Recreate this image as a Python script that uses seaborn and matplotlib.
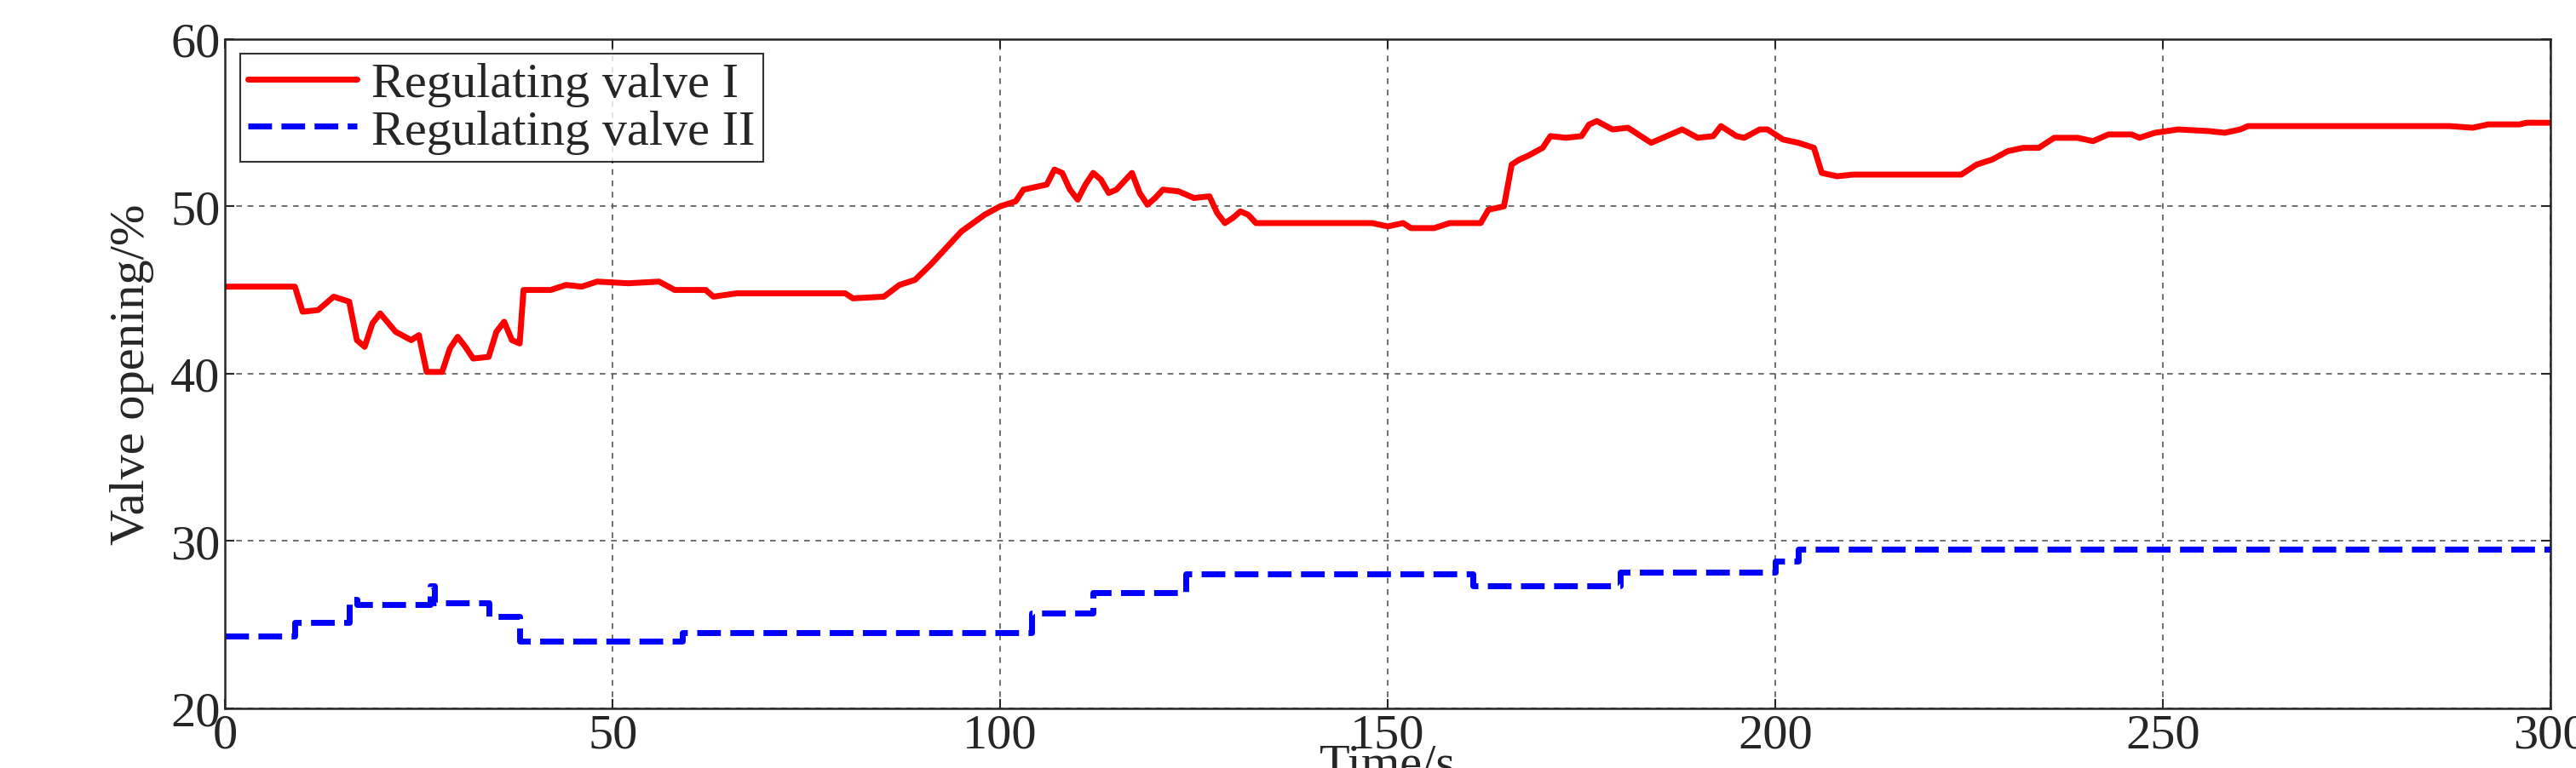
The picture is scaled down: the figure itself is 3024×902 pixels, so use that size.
import numpy as np
import pandas as pd
import matplotlib.pyplot as plt
import seaborn as sns

# valve I (red) readings
t1 = [0, 9, 10, 12, 14, 16, 17, 18, 19, 20, 22, 24, 25, 26, 28, 29, 30, 31, 32, 34, 35, 36, 37, 38, 38.5,
      42, 44, 46, 48, 52, 56, 58, 62, 63, 66, 80, 81, 85, 87, 89, 91, 93, 95, 98, 100, 102, 103, 106, 107,
      108, 109, 110, 111, 112, 113, 114, 115, 116, 117, 118, 119, 120, 121, 123, 125, 127, 128, 129, 130,
      131, 132, 133, 148, 150, 152, 153, 156, 158, 162, 163, 165, 166, 167, 168, 170, 171, 173, 175, 176,
      177, 179, 181, 183, 184, 186, 188, 190, 192, 193, 195, 196, 198, 199, 201, 203, 205, 206, 208, 210,
      224, 226, 228, 230, 232, 234, 236, 239, 241, 243, 246, 247, 249, 252, 256, 258, 260, 261, 280, 287,
      290, 292, 296, 297, 300]
v1 = [45.2, 45.2, 43.7, 43.8, 44.6, 44.3, 42, 41.6, 43, 43.6, 42.5, 42, 42.3, 40.1, 40.1, 41.5, 42.2, 41.6,
      40.9, 41, 42.5, 43.1, 42, 41.8, 45, 45, 45.3, 45.2, 45.5, 45.4, 45.5, 45, 45, 44.6, 44.8, 44.8, 44.5,
      44.6, 45.3, 45.6, 46.5, 47.5, 48.5, 49.5, 50, 50.3, 51, 51.3, 52.2, 52, 51, 50.4, 51.3, 52, 51.6, 50.8,
      51, 51.5, 52, 50.8, 50.1, 50.5, 51, 50.9, 50.5, 50.6, 49.6, 49, 49.3, 49.7, 49.5, 49, 49, 48.8, 49,
      48.7, 48.7, 49, 49, 49.8, 50, 52.5, 52.8, 53, 53.5, 54.2, 54.1, 54.2, 54.9, 55.1, 54.6, 54.7, 54.1,
      53.8, 54.2, 54.6, 54.1, 54.2, 54.8, 54.2, 54.1, 54.6, 54.6, 54, 53.8, 53.5, 52, 51.8, 51.9, 51.9, 52.5,
      52.8, 53.3, 53.5, 53.5, 54.1, 54.1, 53.9, 54.3, 54.3, 54.1, 54.4, 54.6, 54.5, 54.4, 54.6, 54.8, 54.8,
      54.8, 54.7, 54.9, 54.9, 55, 55]

# valve II (blue) readings
t2 = [0, 8, 9, 15, 16, 17, 26, 26.5, 27, 33, 34, 37, 38, 58, 59, 103, 104, 111, 112, 122, 124, 160, 161,
      179, 180, 199, 200, 203, 300]
v2 = [24.3, 24.3, 25.1, 25.1, 26.5, 26.2, 26.2, 27.3, 26.3, 26.3, 25.5, 25.5, 24, 24, 24.5, 24.5, 25.7,
      25.7, 26.9, 26.9, 28, 28, 27.3, 27.3, 28.1, 28.1, 28.8, 29.5, 29.5]

df1 = pd.DataFrame({'t': t1, 'v': v1})
df2 = pd.DataFrame({'t': t2, 'v': v2})

sns.set_style('ticks')
plt.rcParams['font.family'] = ['Liberation Serif', 'DejaVu Serif']
fs = 42

fig = plt.figure(figsize=(30.24, 9.03), dpi=100)
ax = fig.add_axes([0.0874, 0.078, 0.9026, 0.87])

sns.lineplot(data=df1, x='t', y='v', ax=ax, color='red', linewidth=5, label='Regulating valve I')
sns.lineplot(data=df2, x='t', y='v', ax=ax, color='blue', linewidth=5, linestyle=(0, (4, 1.6)),
             drawstyle='steps-post', label='Regulating valve II')

ax.set_xlim(0, 300)
ax.set_ylim(20, 60)
ax.set_xticks(range(0, 301, 50))
ax.set_yticks(range(20, 61, 10))
ax.grid(True, linestyle=(0, (4, 4)), color='#555555', linewidth=1.2)
ax.tick_params(labelsize=fs, direction='in', length=8, width=1.5, top=True, right=True, pad=4)
for s in ax.spines.values():
    s.set_linewidth(1.8)
ax.set_xlabel('Time/s', fontsize=fs, labelpad=-12)
ax.set_ylabel('Valve opening/%', fontsize=fs, labelpad=14)

leg = ax.legend(loc='upper left', fontsize=fs, frameon=True, fancybox=False, borderaxespad=0.3,
                handlelength=2.2, handletextpad=0.3, borderpad=0.15, labelspacing=0.05)
leg.get_frame().set_edgecolor('black')
leg.get_frame().set_linewidth(1.5)

fig.savefig('out.png', dpi=100)
